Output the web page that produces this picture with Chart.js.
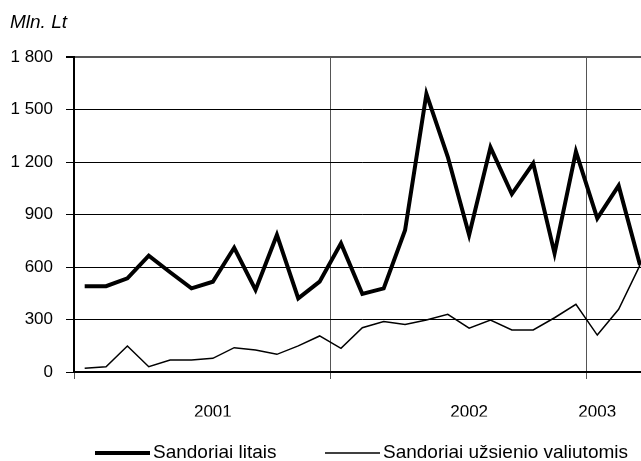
<!DOCTYPE html>
<html>
<head>
<meta charset="utf-8">
<script src="https://cdn.jsdelivr.net/npm/chart.js@4/dist/chart.umd.min.js"></script>
<style>
  html, body { margin: 0; padding: 0; background: #fff; overflow: hidden; }
  #wrap { position: relative; width: 641px; height: 461px; overflow: hidden; }
  #chart { position: absolute; left: 0; top: 0; }
</style>
</head>
<body>
<div id="wrap"><canvas id="chart" width="663" height="461"></canvas></div>
<script>
// months Jan 2001 .. Mar 2003
const months = [
    "2001-01", "2001-02", "2001-03", "2001-04", "2001-05", "2001-06",
    "2001-07", "2001-08", "2001-09", "2001-10", "2001-11", "2001-12",
    "2002-01", "2002-02", "2002-03", "2002-04", "2002-05", "2002-06",
    "2002-07", "2002-08", "2002-09", "2002-10", "2002-11", "2002-12",
    "2003-01", "2003-02", "2003-03"
];
const yearTicks = { "2001-07": "2001", "2002-07": "2002", "2003-01": "2003" };

const litais = [490, 490, 535, 665, 570, 478, 516, 710, 469, 783, 421, 516,
    735, 446, 478, 810, 1590, 1230, 783, 1284, 1017, 1192, 678, 1259,
    878, 1065, 611];
const valiutomis = [21, 30, 149, 30, 69, 69, 78, 139, 126, 101, 149, 206,
    135, 253, 288, 272, 297, 330, 250, 297, 240, 240, 310, 387,
    211, 358, 611];

const unitLabel = "Mln. Lt";
const seriesNames = ["Sandoriai litais", "Sandoriai užsienio valiutomis"];

const FONT = '"Liberation Sans", Arial, sans-serif';
Chart.defaults.font.family = FONT;
Chart.defaults.color = "#000";

function fmt(v) {
    return v.toString().replace(/\B(?=(\d{3})+(?!\d))/g, " ");
}

// unit label top-left + legend under the axis
const extrasPlugin = {
    id: "extras",
    afterDraw(chart) {
        const ctx = chart.ctx;
        ctx.save();
        ctx.fillStyle = "#000";
        ctx.textBaseline = "middle";
        ctx.font = "italic 19px " + FONT;
        ctx.fillText(unitLabel, 10, 23);

        const legendX = [95, 325];
        const y = 453;
        ctx.font = "19px " + FONT;
        chart.data.datasets.forEach((ds, i) => {
            const x = legendX[i];
            ctx.beginPath();
            ctx.strokeStyle = ds.borderColor;
            ctx.lineWidth = ds.borderWidth;
            ctx.moveTo(x, y);
            ctx.lineTo(x + 55, y);
            ctx.stroke();
            ctx.fillText(ds.label, x + 58, y);
        });
        ctx.restore();
    },
};

const ctx = document.getElementById("chart");
new Chart(ctx, {
    type: "line",
    data: {
        labels: months,
        datasets: [
            {
                label: seriesNames[0],
                data: litais,
                borderColor: "#000",
                borderWidth: 4,
                pointRadius: 0,
                tension: 0,
            },
            {
                label: seriesNames[1],
                data: valiutomis,
                borderColor: "#000",
                borderWidth: 1.5,
                pointRadius: 0,
                tension: 0,
            },
        ],
    },
    options: {
        responsive: false,
        animation: false,
        devicePixelRatio: 1,
        layout: { padding: { top: 57, left: 0, right: 0, bottom: 44.5 } },
        plugins: {
            legend: { display: false },
            tooltip: { enabled: false },
        },
        scales: {
            x: {
                offset: true,
                grid: {
                    offset: true,
                    color: (c) => (c.index % 12 === 0 ? "#555" : "rgba(0,0,0,0)"),
                    lineWidth: 1,
                    tickLength: 7,
                },
                border: { display: true, color: "#000", width: 2 },
                ticks: {
                    autoSkip: false,
                    maxRotation: 0,
                    padding: 23,
                    font: { size: 17 },
                    callback: (v, i) => yearTicks[months[i]] || "",
                },
                afterFit: (s) => {
                    s.height = 44.5;
                },
            },
            y: {
                min: 0,
                max: 1800,
                grid: {
                    color: (c) => (c.tick && c.tick.value === 1800 ? "#555" : "#000"),
                    lineWidth: (c) => (c.tick && c.tick.value === 1800 ? 2 : 1),
                    tickColor: "#000",
                    tickLength: 8,
                },
                border: { display: true, color: "#000", width: 2 },
                ticks: {
                    stepSize: 300,
                    padding: 13,
                    font: { size: 17 },
                    callback: (v) => fmt(v),
                },
                afterFit: (s) => {
                    s.width = 74;
                },
            },
        },
    },
    plugins: [extrasPlugin],
});
</script>
</body>
</html>
